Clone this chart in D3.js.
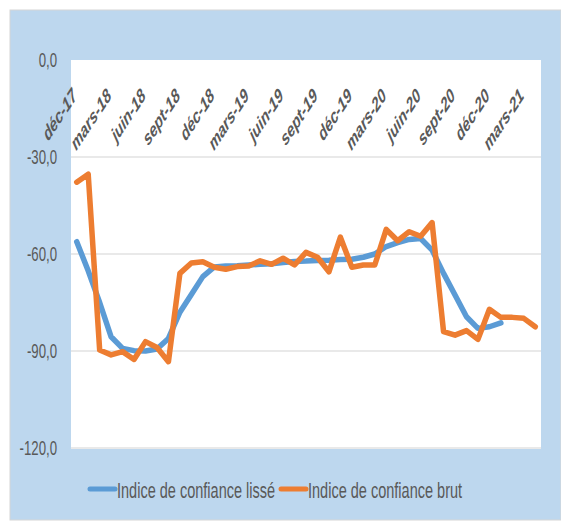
<!DOCTYPE html>
<html>
<head>
<meta charset="utf-8">
<script src="https://cdn.jsdelivr.net/npm/d3@7"></script>
<style>
  body { margin: 0; background: #ffffff; }
  text { font-family: "Liberation Sans", Arial, sans-serif; fill: #595959; }
</style>
</head>
<body>
<svg id="chart"></svg>
<script>
// months, dec-17 .. avr-21
var months = ["déc-17","janv-18","févr-18","mars-18","avr-18","mai-18","juin-18","juil-18","août-18","sept-18","oct-18","nov-18",
  "déc-18","janv-19","févr-19","mars-19","avr-19","mai-19","juin-19","juil-19","août-19","sept-19","oct-19","nov-19",
  "déc-19","janv-20","févr-20","mars-20","avr-20","mai-20","juin-20","juil-20","août-20","sept-20","oct-20","nov-20",
  "déc-20","janv-21","févr-21","mars-21","avr-21"];

// only every third month gets a label
var tickLabels = months.filter(function(d, i) { return i % 3 == 0; });

var yTicks = [0, -30, -60, -90, -120];

var lisse = [-56.2, -65.2, -75.0, -85.6, -89.2, -89.9, -90.0, -89.4, -86.1, -78.0, -72.5, -67.0,
  -64.0, -63.7, -63.6, -63.4, -63.2, -63.0, -62.6, -62.3, -62.2, -62.0, -61.9, -61.7,
  -61.6, -61.0, -60.0, -57.7, -56.5, -55.5, -55.2, -58.8, -66.0, -72.7, -79.4, -83.0,
  -82.5, -81.3];

var brut = [-37.8, -35.3, -89.7, -91.2, -90.2, -92.6, -87.1, -88.9, -93.3, -66.0, -62.8, -62.4,
  -64.1, -64.7, -63.9, -63.7, -62.1, -63.2, -61.3, -63.4, -59.5, -61.0, -65.5, -54.8,
  -64.1, -63.4, -63.4, -52.4, -55.9, -53.1, -54.5, -50.3, -84.0, -85.1, -83.7, -86.4,
  -77.1, -79.6, -79.6, -79.9, -82.5];

var series = [
  {name: "Indice de confiance lissé", values: lisse, color: "#5B9BD5"},
  {name: "Indice de confiance brut", values: brut, color: "#ED7D31"}
];

var width = 561, height = 522;
var plot = {left: 71, right: 541, top: 60, bottom: 448};
var squeeze = 0.66; // the reference text is squeezed horizontally

var svg = d3.select("#chart").attr("width", width).attr("height", height);

// blue panel
svg.append("rect")
  .attr("x", 10).attr("y", 10)
  .attr("width", width - 10).attr("height", 510)
  .style("fill", "#BDD7EE")
  .style("stroke", "#d6d6d6").style("stroke-width", 1);

svg.append("rect")
  .attr("x", plot.left).attr("y", plot.top)
  .attr("width", plot.right - plot.left).attr("height", plot.bottom - plot.top)
  .style("fill", "#ffffff");

var x = d3.scaleBand().domain(months).range([plot.left, plot.right]);
var y = d3.scaleLinear().domain([-120, 0]).range([plot.bottom, plot.top]);

function cx(d) { return x(d) + x.bandwidth() / 2; }

// gridlines
svg.append("g")
  .selectAll("line")
  .data(yTicks.filter(function(d) { return d != 0; }))
  .enter().append("line")
  .attr("x1", plot.left).attr("x2", plot.right)
  .attr("y1", function(d) { return y(d); })
  .attr("y2", function(d) { return y(d); })
  .style("stroke", "#e9e9e9")
  .style("stroke-width", 2);

// y labels
svg.append("g")
  .selectAll("text")
  .data(yTicks)
  .enter().append("text")
  .attr("transform", function(d) { return "translate(57," + (y(d) + 7) + ") scale(" + squeeze + ",1)"; })
  .style("text-anchor", "end")
  .style("font-size", "20px")
  .text(function(d) { return d3.format(".1f")(d).replace(".", ",").replace("−", "-"); });

// x labels at the top, rotated 45deg then squeezed
var c45 = Math.SQRT1_2;
svg.append("g")
  .selectAll("text")
  .data(tickLabels)
  .enter().append("text")
  .attr("transform", function(d) {
    return "matrix(" + [squeeze * c45, -c45, squeeze * c45, c45, cx(d) + 1, 97].join(",") + ")";
  })
  .style("text-anchor", "end")
  .style("font-size", "20px")
  .style("font-weight", "bold")
  .style("font-style", "italic")
  .text(function(d) { return d; });

// lines
var line = d3.line()
  .x(function(d, i) { return cx(months[i]); })
  .y(function(d) { return y(d); });

svg.append("g")
  .selectAll("path")
  .data(series)
  .enter().append("path")
  .attr("d", function(d) { return line(d.values); })
  .style("fill", "none")
  .style("stroke", function(d) { return d.color; })
  .style("stroke-width", 5.5)
  .style("stroke-linejoin", "round")
  .style("stroke-linecap", "round");

// legend
var legendX = [90, 281];
var legend = svg.append("g")
  .selectAll("g")
  .data(series)
  .enter().append("g")
  .attr("transform", function(d, i) { return "translate(" + legendX[i] + ",489)"; });

legend.append("line")
  .attr("x1", 0).attr("x2", 25)
  .style("stroke", function(d) { return d.color; })
  .style("stroke-width", 5)
  .style("stroke-linecap", "round");

legend.append("text")
  .attr("transform", "translate(27,9) scale(" + squeeze + ",1)")
  .style("font-size", "22px")
  .text(function(d) { return d.name; });
</script>
</body>
</html>
